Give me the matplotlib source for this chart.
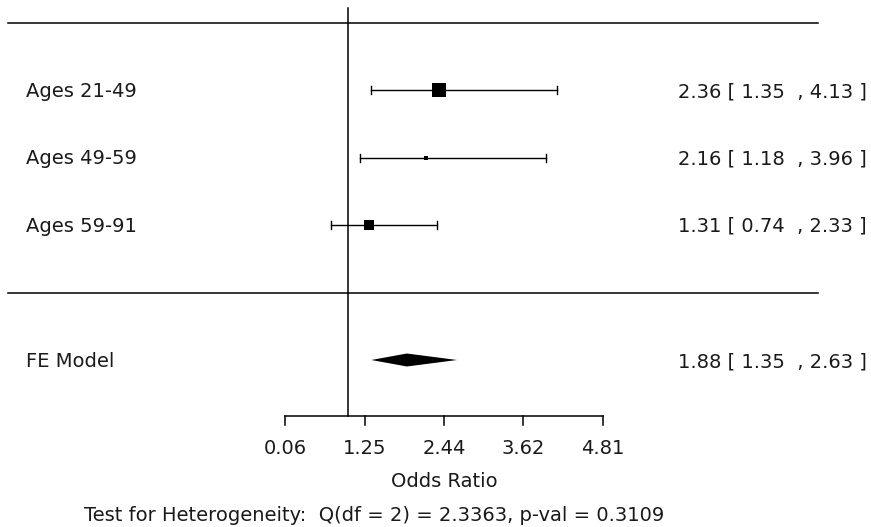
import numpy as np
import matplotlib
matplotlib.use("Agg")
import matplotlib.pyplot as plt
from matplotlib.patches import Polygon

plt.rcParams['font.family'] = ['DejaVu Sans']

# study rows, top to bottom
labels = ["Ages 21-49", "Ages 49-59", "Ages 59-91"]
est = [2.36, 2.16, 1.31]
lower = [1.35, 1.18, 0.74]
upper = [4.13, 3.96, 2.33]

# fixed effects summary
fe_label = "FE Model"
fe_est, fe_lower, fe_upper = 1.88, 1.35, 2.63

ticks = [0.06, 1.25, 2.44, 3.62, 4.81]
xlabel = "Odds Ratio"
het_text = "Test for Heterogeneity:  Q(df = 2) = 2.3363, p-val = 0.3109"

W, H = 871, 527
FS = 14
TXT = "#1a1a1a"
fig = plt.figure(figsize=(W / 100, H / 100), dpi=100)
ax = fig.add_axes([0, 0, 1, 1])
ax.axis("off")

# pixel -> data mapping (x linear in OR, y in row units)
px_per_unit = (603 - 285) / (4.81 - 0.06)
x0 = 0.06 - 285 / px_per_unit
x1 = 0.06 + (W - 285) / px_per_unit
row_px = 67.5
ax.set_xlim(x0, x1)
ax.set_ylim(-(H - 292.5) / row_px, 292.5 / row_px)

def px2x(p):
    return x0 + p / px_per_unit

def py2y(p):
    return (292.5 - p) / row_px

k = len(labels)
rows = np.arange(k, 0, -1)
fe_row = -1
axis_y = py2y(416)
top_y = py2y(8)
base_off = 7 / row_px  # text baseline below row centre

# marker sizes from inverse-variance weights
se = (np.log(upper) - np.log(lower)) / (2 * 1.96)
w = 1 / se ** 2
psize = 0.5 + (w - w.min()) / (w.max() - w.min())

lw = 1.1
ax.plot([px2x(8), px2x(818)], [k + 1, k + 1], color="black", lw=lw)
ax.plot([px2x(8), px2x(818)], [0, 0], color="black", lw=lw)
ax.plot([1, 1], [axis_y, top_y], color="black", lw=lw)

def annot(e, lo, hi):
    return f"{e:.2f} [ {lo:.2f}  , {hi:.2f} ]"

cap = 4 / row_px
for r, lab, e, lo, hi, ps in zip(rows, labels, est, lower, upper, psize):
    ax.plot([lo, hi], [r, r], color="black", lw=1.0)
    ax.plot([lo, lo], [r - cap, r + cap], color="black", lw=1.0)
    ax.plot([hi, hi], [r - cap, r + cap], color="black", lw=1.0)
    ax.plot(e, r, marker="s", color="black", ms=6.3 * ps, mew=0)
    ax.text(px2x(26), r - base_off, lab, ha="left", va="baseline",
            fontsize=FS, color=TXT)
    ax.text(px2x(867), r - base_off, annot(e, lo, hi),
            ha="right", va="baseline", fontsize=FS, color=TXT)

dh = 6.5 / row_px
ax.add_patch(Polygon([[fe_lower, fe_row], [fe_est, fe_row + dh],
                      [fe_upper, fe_row], [fe_est, fe_row - dh]],
                     closed=True, color="black", lw=0))
ax.text(px2x(26), fe_row - base_off, fe_label, ha="left", va="baseline",
        fontsize=FS, color=TXT)
ax.text(px2x(867), fe_row - base_off, annot(fe_est, fe_lower, fe_upper),
        ha="right", va="baseline", fontsize=FS, color=TXT)

# x axis
tick_len = 9 / row_px
ax.plot([ticks[0], ticks[-1]], [axis_y, axis_y], color="black", lw=lw)
for t in ticks:
    ax.plot([t, t], [axis_y, axis_y - tick_len], color="black", lw=lw)
    ax.text(t, py2y(454), f"{t:.2f}", ha="center", va="baseline",
            fontsize=FS, color=TXT)
ax.text(np.mean([ticks[0], ticks[-1]]), py2y(487), xlabel,
        ha="center", va="baseline", fontsize=FS, color=TXT)
ax.text(px2x(84), py2y(521), het_text, ha="left", va="baseline",
        fontsize=FS, color=TXT)

fig.savefig("out.png", dpi=100)
